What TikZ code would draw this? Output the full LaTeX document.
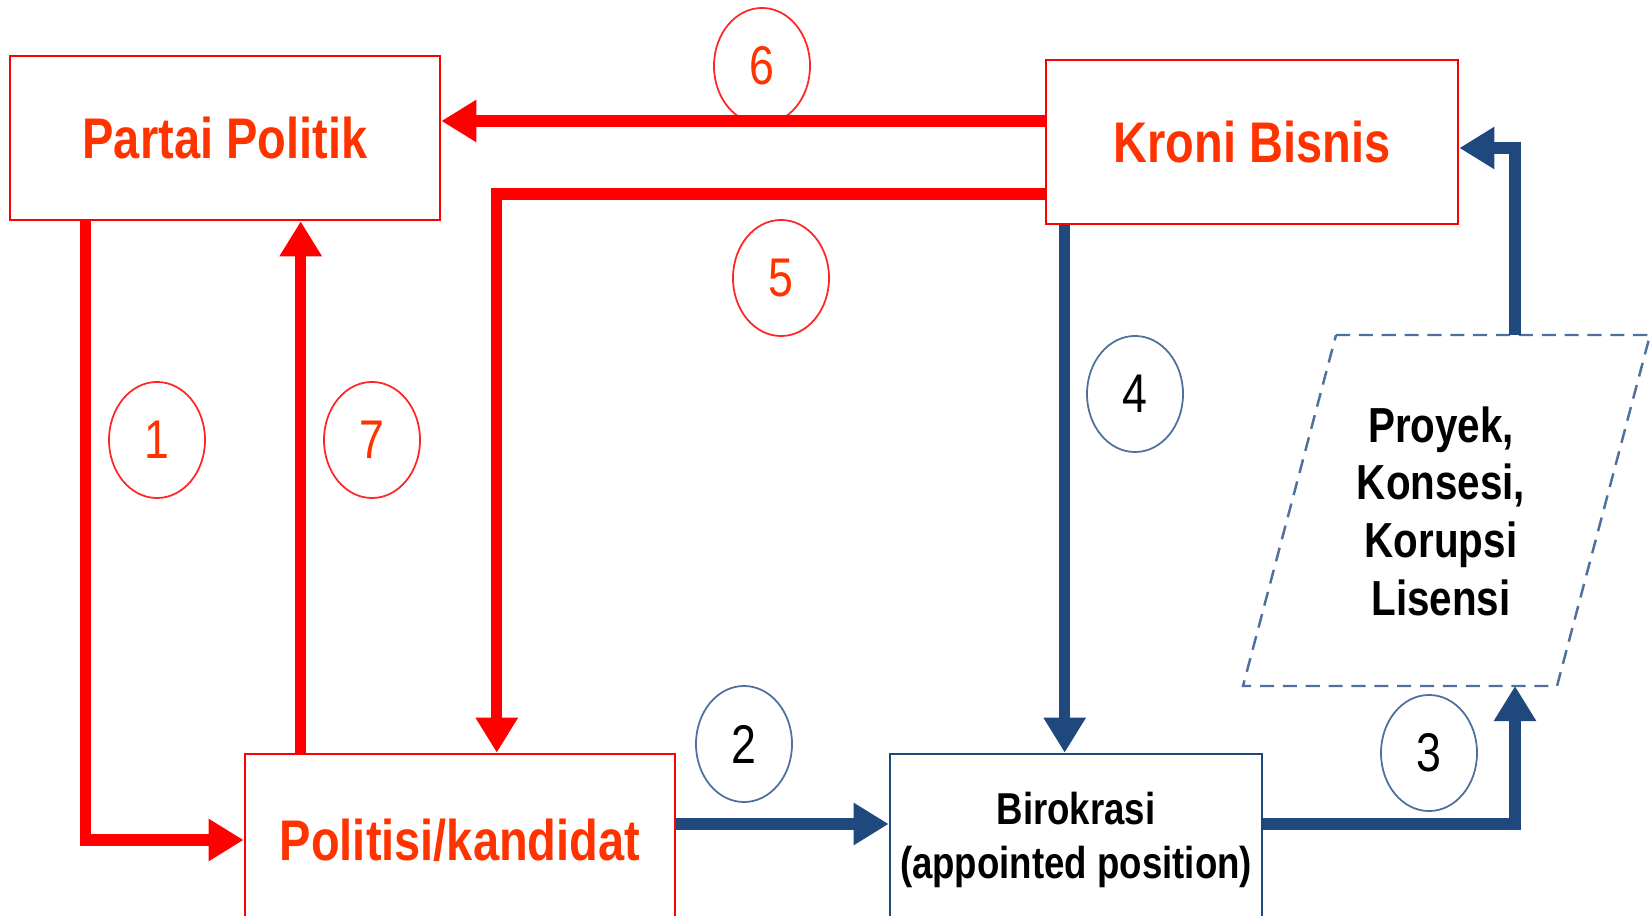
\documentclass[tikz,border=0pt]{standalone}
\usepackage{fontspec}
\setmainfont{Liberation Sans}[FakeStretch=0.82]
\usepackage{xcolor}
\usetikzlibrary{arrows.meta,positioning,shapes.geometric}
\definecolor{pRed}{HTML}{FF0000}
\definecolor{pText}{HTML}{FF3300}
\definecolor{pBlue}{HTML}{1F497D}
\definecolor{pRing}{HTML}{4F6F9C}

\begin{document}
\begin{tikzpicture}[
    x=0.01cm, y=-0.01cm,
    box/.style={draw=pRed, line width=0.7pt, inner sep=0pt,
                minimum width=4.3cm, minimum height=1.64cm,
                font=\fontsize{16.3}{19}\selectfont\bfseries, text=pText},
    bbox/.style={box, draw=pBlue, text=black, align=center,
                 font=\fontsize{12.7}{15.5}\selectfont\bfseries},
    dashbox/.style={draw=pRing, line width=0.7pt, dash pattern=on 4pt off 2.5pt},
    ring/.style={ellipse, draw=pRed!85, line width=0.5pt, inner sep=0pt,
                 minimum width=0.96cm, minimum height=1.16cm,
                 font=\fontsize{15.5}{18}\selectfont, text=pText},
    bring/.style={ring, draw=pRing, text=black},
    redarr/.style={draw=pRed, line width=3.2pt,
                   -{Triangle[length=0.35cm, width=0.40cm]}},
    bluearr/.style={redarr, draw=pBlue, line width=3.2pt}
  ]
  \useasboundingbox (0,0) rectangle (1652,916);
  \clip (0,0) rectangle (1652,916);

  % boxes
  \node[box] (partai) at (225,138) {Partai Politik};
  \node[box, minimum width=4.12cm] (kroni) at (1252,142) {Kroni Bisnis};
  \node[box, minimum height=1.72cm] (politisi) at (460,840) {Politisi/kandidat};
  \node[bbox, minimum width=3.72cm, minimum height=1.72cm] (birokrasi) at (1076,840)
       {Birokrasi\\(appointed position)};

  % dashed parallelogram
  \coordinate (pTL) at (1336,335);
  \coordinate (pTR) at (1650,335);
  \coordinate (pBR) at (1557,686);
  \coordinate (pBL) at (1243,686);
  \draw[dashbox] (pTL) -- (pTR) -- (pBR) -- (pBL) -- cycle;
  \node[align=center, font=\fontsize{14}{16.4}\selectfont\bfseries] (proyek) at (1441,511)
       {Proyek,\\Konsesi,\\Korupsi\\Lisensi};

  % numbers
  \node[ring] (n6) at (762,66) {6};
  \node[ring] (n5) at (781,278) {5};
  \node[ring] (n1) at (157,440) {1};
  \node[ring] (n7) at (372,440) {7};
  \node[bring] (n4) at (1135,394) {4};
  \node[bring] (n2) at (744,744) {2};
  \node[bring] (n3) at (1429,753) {3};

  % helper points
  \coordinate (c1) at ([xshift=0.77cm]partai.south west);
  \coordinate (c7) at ([xshift=0.57cm]politisi.north west);
  \coordinate (c5) at ([xshift=2.53cm]politisi.north west);
  \coordinate (c6) at ([yshift=0.21cm]kroni.west);
  \coordinate (c4) at ([xshift=0.2cm]kroni.south west);
  \coordinate (c3) at (1515,686);
  \coordinate (c8) at (1515,335);

  % red flows
  \draw[redarr] (c6) -- (c6 -| partai.east);
  \draw[redarr] ([yshift=-0.52cm]kroni.west) -| (c5);
  \draw[redarr] (c1) |- (politisi);
  \draw[redarr] (c7) -- (c7 |- partai.south);

  % blue flows
  \draw[bluearr] (c4) -- (c4 |- birokrasi.north);
  \draw[bluearr] ([yshift=0.16cm]politisi.east) -- ([yshift=0.16cm]birokrasi.west);
  \draw[bluearr] ([yshift=0.16cm]birokrasi.east) -| (c3);
  \draw[bluearr] (c8) |- ([yshift=-0.06cm]kroni.east);
\end{tikzpicture}
\end{document}
